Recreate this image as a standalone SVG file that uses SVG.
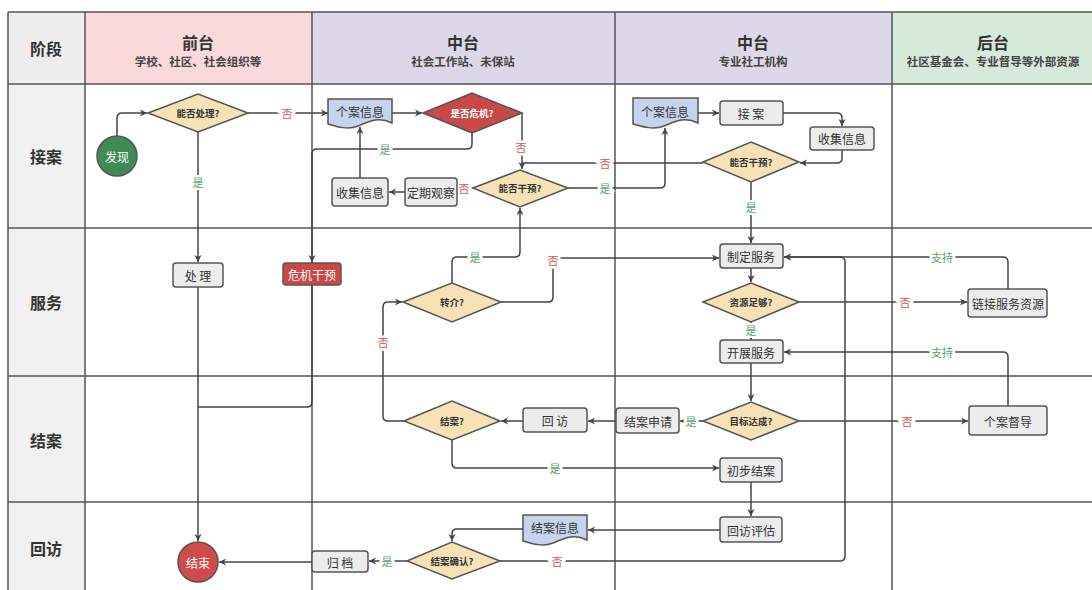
<svg xmlns="http://www.w3.org/2000/svg" width="1092" height="590" viewBox="0 0 1092 590">
<style>
text{font-family:"Noto Sans CJK SC","Noto Sans",sans-serif;text-anchor:middle;dominant-baseline:central}
.hd{font-size:16px;font-weight:bold;fill:#333}
.sub{font-size:11.5px;font-weight:bold;fill:#444}
.stage{font-size:16px;font-weight:bold;fill:#333}
.box{fill:#ececec;stroke:#555;stroke-width:1.5}
.doc{fill:#c6d3ed;stroke:#555;stroke-width:1.5}
.dia{fill:#f7e2b5;stroke:#555;stroke-width:1.5}
.red{fill:#c94848;stroke:#555;stroke-width:1.5}
.bt{font-size:12px;fill:#333}
.dt{font-size:9.5px;font-weight:bold;fill:#333}
.wt{fill:#fff}
.grid{stroke:#555;stroke-width:1.5;fill:none}
.c{fill:none;stroke:#444;stroke-width:1.5}
.no{font-size:11px;fill:#d9534f;stroke:#fff;stroke-width:5;paint-order:stroke}
.yes{font-size:11px;fill:#5aa469;stroke:#fff;stroke-width:5;paint-order:stroke}
</style>
<defs>
<marker id="a" markerUnits="userSpaceOnUse" markerWidth="8" markerHeight="8" refX="7" refY="4" orient="auto">
<path d="M0,0.5 L7,4 L0,7.5 L2,4 Z" fill="#444"/>
</marker>
</defs>
<rect width="1092" height="590" fill="#fff"/>
<g id="lanes">
<rect x="8" y="12" width="77" height="72" fill="#eeeeee"/>
<rect x="85" y="12" width="227" height="72" fill="#f9d9d9"/>
<rect x="312" y="12" width="303" height="72" fill="#dcd7e9"/>
<rect x="615" y="12" width="277" height="72" fill="#dcd7e9"/>
<rect x="892" y="12" width="200" height="72" fill="#d5eadb"/>
<rect x="8" y="84" width="77" height="506" fill="#f1f1f1"/>
<path class="grid" d="M8,12 H1092 M8,84 H1092 M8,228 H1092 M8,376 H1092 M8,502 H1092 M8,12 V590 M85,12 V590 M312,12 V590 M615,12 V590 M892,12 V590"/>
<text class="hd" x="46" y="48">阶段</text>
<text class="hd" x="198" y="42">前台</text>
<text class="sub" x="198" y="61">学校、社区、社会组织等</text>
<text class="hd" x="463" y="42">中台</text>
<text class="sub" x="463" y="61">社会工作站、未保站</text>
<text class="hd" x="753" y="42">中台</text>
<text class="sub" x="753" y="61">专业社工机构</text>
<text class="hd" x="993" y="42">后台</text>
<text class="sub" x="993" y="61">社区基金会、专业督导等外部资源</text>
<text class="stage" x="46" y="156">接案</text>
<text class="stage" x="46" y="302">服务</text>
<text class="stage" x="46" y="440">结案</text>
<text class="stage" x="46" y="548">回访</text>
</g>
<g id="connectors">
<path class="c" d="M117,136 V118 Q117,113 122,113 H147" marker-end="url(#a)"/>
<path class="c" d="M248,113 H328" marker-end="url(#a)"/>
<path class="c" d="M198,132 V262" marker-end="url(#a)"/>
<path class="c" d="M198,287 V541" marker-end="url(#a)"/>
<path class="c" d="M312,285 V402 Q312,407 307,407 H198"/>
<path class="c" d="M392,113 H422" marker-end="url(#a)"/>
<path class="c" d="M472,133 V144 Q472,149 467,149 H317 Q312,149 312,154 V262" marker-end="url(#a)"/>
<path class="c" d="M522,113 V169" marker-end="url(#a)"/>
<path class="c" d="M703,163 H522"/>
<path class="c" d="M473,188 H458" marker-end="url(#a)"/>
<path class="c" d="M405,192 H389" marker-end="url(#a)"/>
<path class="c" d="M360,178 V127" marker-end="url(#a)"/>
<path class="c" d="M568,188 H660 Q665,188 665,183 V128" marker-end="url(#a)"/>
<path class="c" d="M698,113 H719" marker-end="url(#a)"/>
<path class="c" d="M783,113 H837 Q842,113 842,118 V126" marker-end="url(#a)"/>
<path class="c" d="M842,150 V158 Q842,163 837,163 H800" marker-end="url(#a)"/>
<path class="c" d="M751,182 V243" marker-end="url(#a)"/>
<path class="c" d="M751,268 V282" marker-end="url(#a)"/>
<path class="c" d="M799,302 H967" marker-end="url(#a)"/>
<path class="c" d="M1008,289 V262 Q1008,257 1003,257 H784" marker-end="url(#a)"/>
<path class="c" d="M751,322 V340" marker-end="url(#a)"/>
<path class="c" d="M1008,406 V357 Q1008,352 1003,352 H784" marker-end="url(#a)"/>
<path class="c" d="M751,363 V401" marker-end="url(#a)"/>
<path class="c" d="M703,421 H680" marker-end="url(#a)"/>
<path class="c" d="M799,421 H968" marker-end="url(#a)"/>
<path class="c" d="M616,421 H588" marker-end="url(#a)"/>
<path class="c" d="M523,421 H501" marker-end="url(#a)"/>
<path class="c" d="M404,421 H388 Q383,421 383,416 V307 Q383,302 388,302 H402" marker-end="url(#a)"/>
<path class="c" d="M452,283 V262 Q452,257 457,257 H515 Q520,257 520,252 V208" marker-end="url(#a)"/>
<path class="c" d="M501,302 H548 Q553,302 553,297 V263 Q553,258 558,258 H719" marker-end="url(#a)"/>
<path class="c" d="M452,440 V463 Q452,468 457,468 H719" marker-end="url(#a)"/>
<path class="c" d="M751,482 V516" marker-end="url(#a)"/>
<path class="c" d="M720,530 H588" marker-end="url(#a)"/>
<path class="c" d="M523,529 H457 Q452,529 452,534 V541" marker-end="url(#a)"/>
<path class="c" d="M407,561 H369" marker-end="url(#a)"/>
<path class="c" d="M312,562 H219" marker-end="url(#a)"/>
<path class="c" d="M500,561 H840 Q845,561 845,556 V262 Q845,257 840,257 H784" marker-end="url(#a)"/>
<text class="no" x="287" y="113">否</text>
<text class="yes" x="198" y="182">是</text>
<text class="yes" x="385" y="149">是</text>
<text class="no" x="521" y="147">否</text>
<text class="no" x="605" y="163">否</text>
<text class="no" x="464" y="188">否</text>
<text class="yes" x="605" y="188">是</text>
<text class="yes" x="751" y="207">是</text>
<text class="no" x="905" y="302">否</text>
<text class="yes" x="942" y="257">支持</text>
<text class="yes" x="751" y="330">是</text>
<text class="yes" x="942" y="352">支持</text>
<text class="yes" x="691" y="421">是</text>
<text class="no" x="907" y="421">否</text>
<text class="no" x="383" y="342">否</text>
<text class="yes" x="475" y="257">是</text>
<text class="no" x="553" y="260">否</text>
<text class="yes" x="555" y="468">是</text>
<text class="yes" x="387" y="561">是</text>
<text class="no" x="557" y="561">否</text>
</g>
<g id="n-faxian"><circle cx="117" cy="156" r="20" fill="#3f8a55" stroke="#555" stroke-width="1.5"/><text class="bt wt" x="117" y="156">发现</text></g>
<g id="n-nengfouchuli"><polygon class="dia" points="148,113 198,94 248,113 198,132"/><text class="dt" x="198" y="113">能否处理?</text></g>
<g id="n-chuli"><rect class="box" x="173" y="263" width="50" height="24" rx="3"/><text class="bt" x="198" y="275">处 理</text></g>
<g id="n-weijiganyu"><rect class="red" x="283" y="263" width="58" height="22" rx="3"/><text class="bt wt" x="312" y="274">危机干预</text></g>
<g id="n-jieshu"><circle cx="198" cy="562" r="20" fill="#d14b4b" stroke="#555" stroke-width="1.5"/><text class="bt wt" x="198" y="562">结束</text></g>
<g id="n-gean1"><path class="doc" d="M328,99 H392 V123 C378,116 368,122 358,126 C348,130 338,127 328,124 Z"/><text class="bt" x="360" y="111">个案信息</text></g>
<g id="n-shifouweiji"><polygon class="red" points="423,113 472,93 522,113 472,133"/><text class="dt wt" x="472" y="113">是否危机?</text></g>
<g id="n-nengfouganyu1"><polygon class="dia" points="473,188 520,170 568,188 520,207"/><text class="dt" x="520" y="188">能否干预?</text></g>
<g id="n-dingqi"><rect class="box" x="405" y="178" width="52" height="28" rx="3"/><text class="bt" x="431" y="192">定期观察</text></g>
<g id="n-shouji1"><rect class="box" x="332" y="178" width="56" height="28" rx="3"/><text class="bt" x="360" y="192">收集信息</text></g>
<g id="n-gean2"><path class="doc" d="M633,98 H698 V123 C684,116 674,122 664,126 C654,130 643,127 633,124 Z"/><text class="bt" x="665" y="111">个案信息</text></g>
<g id="n-jiean"><rect class="box" x="720" y="101" width="63" height="24" rx="3"/><text class="bt" x="751" y="113">接 案</text></g>
<g id="n-shouji2"><rect class="box" x="810" y="127" width="64" height="23" rx="3"/><text class="bt" x="842" y="138">收集信息</text></g>
<g id="n-nengfouganyu2"><polygon class="dia" points="703,162 751,142 799,162 751,182"/><text class="dt" x="751" y="162">能否干预?</text></g>
<g id="n-zhiding"><rect class="box" x="720" y="244" width="63" height="24" rx="3"/><text class="bt" x="751" y="256">制定服务</text></g>
<g id="n-ziyuan"><polygon class="dia" points="703,302 751,283 799,302 751,322"/><text class="dt" x="751" y="302">资源足够?</text></g>
<g id="n-lianjie"><rect class="box" x="968" y="289" width="79" height="28" rx="3"/><text class="bt" x="1008" y="303">链接服务资源</text></g>
<g id="n-kaizhan"><rect class="box" x="720" y="340" width="63" height="23" rx="3"/><text class="bt" x="751" y="352">开展服务</text></g>
<g id="n-mubiao"><polygon class="dia" points="703,421 751,402 799,421 751,440"/><text class="dt" x="751" y="421">目标达成?</text></g>
<g id="n-jieanshenqing"><rect class="box" x="616" y="408" width="63" height="25" rx="3"/><text class="bt" x="648" y="421">结案申请</text></g>
<g id="n-dudao"><rect class="box" x="969" y="406" width="78" height="29" rx="3"/><text class="bt" x="1008" y="421">个案督导</text></g>
<g id="n-huifang"><rect class="box" x="523" y="408" width="64" height="24" rx="3"/><text class="bt" x="555" y="420">回 访</text></g>
<g id="n-jiean2"><polygon class="dia" points="404,421 452,401 500,421 452,440"/><text class="dt" x="452" y="421">结案?</text></g>
<g id="n-zhuanjie"><polygon class="dia" points="403,302 452,283 501,302 452,322"/><text class="dt" x="452" y="302">转介?</text></g>
<g id="n-chubu"><rect class="box" x="720" y="458" width="62" height="24" rx="3"/><text class="bt" x="751" y="470">初步结案</text></g>
<g id="n-pinggu"><rect class="box" x="720" y="517" width="62" height="25" rx="3"/><text class="bt" x="751" y="530">回访评估</text></g>
<g id="n-jieanxinxi"><path class="doc" d="M523,515 H587 V540 C573,533 563,539 553,543 C543,547 533,544 523,541 Z"/><text class="bt" x="555" y="527">结案信息</text></g>
<g id="n-queren"><polygon class="dia" points="407,561 452,542 500,561 452,579"/><text class="dt" x="452" y="561">结案确认?</text></g>
<g id="n-guidang"><rect class="box" x="312" y="551" width="56" height="21" rx="3"/><text class="bt" x="340" y="562">归 档</text></g>
</svg>
